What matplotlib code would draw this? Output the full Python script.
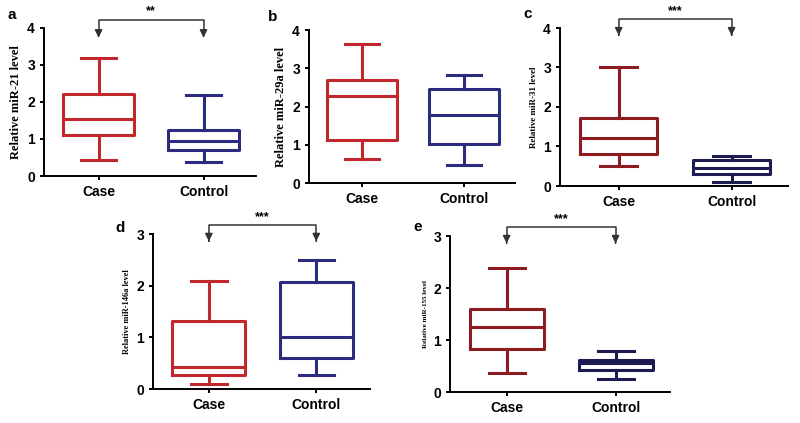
import matplotlib
matplotlib.use("Agg")
import matplotlib.pyplot as plt

plt.rcParams["font.family"] = ["Liberation Sans", "DejaVu Sans"]

groups = ["Case", "Control"]

# (whislo, q1, median, q3, whishi) per group
mir21 = [(0.43, 1.10, 1.53, 2.22, 3.20), (0.38, 0.70, 0.95, 1.25, 2.20)]
mir29a = [(0.62, 1.13, 2.27, 2.68, 3.63), (0.48, 1.03, 1.78, 2.46, 2.83)]
mir31 = [(0.50, 0.82, 1.22, 1.73, 3.00), (0.10, 0.30, 0.45, 0.65, 0.75)]
mir146a = [(0.10, 0.27, 0.43, 1.32, 2.10), (0.27, 0.60, 1.00, 2.07, 2.50)]
mir155 = [(0.37, 0.83, 1.25, 1.60, 2.38), (0.25, 0.42, 0.55, 0.62, 0.78)]

panels = [
    # letter, data, ylabel, ymax, significance, rect(px: left, right, y0, ytop), label pos, colours, label size
    ("a", mir21, "Relative miR-21 level", 4, "**", (44, 256, 176, 28), (8, 15),
     ("#c0282e", "#2b2c7e"), 9),
    ("b", mir29a, "Relative miR-29a level", 4, None, (309, 515, 183, 30), (268, 17),
     ("#c0282e", "#2b2c7e"), 9),
    ("c", mir31, "Relative miR-31 level", 4, "***", (560, 788, 186, 28), (523, 14),
     ("#8e1b1f", "#1c1c52"), 6.5),
    ("d", mir146a, "Relative miR-146a level", 3, "***", (153, 370, 389, 234), (115, 228),
     ("#c0282e", "#2b2c7e"), 6),
    ("e", mir155, "Relative miR-155 level", 3, "***", (450, 670, 392, 236), (413, 227),
     ("#8e1b1f", "#1c1c52"), 5),
]

W, H = 800, 423
fig = plt.figure(figsize=(W / 100, H / 100), dpi=100)

for letter, data, ylabel, ymax, sig, rect, lpos, colors, lsize in panels:
    l, r, y0, yt = rect
    ax = fig.add_axes([l / W, 1 - y0 / H, (r - l) / W, (y0 - yt) / H])
    for i, (vals, col) in enumerate(zip(data, colors)):
        lo, q1, med, q3, hi = vals
        st = {"whislo": lo, "q1": q1, "med": med, "q3": q3, "whishi": hi, "fliers": []}
        ax.bxp([st], positions=[i + 1], widths=0.68, showfliers=False,
               boxprops=dict(color=col, lw=2.2),
               medianprops=dict(color=col, lw=2.2),
               whiskerprops=dict(color=col, lw=2.2),
               capprops=dict(color=col, lw=2.2),
               capwidths=0.33)
    ax.set_xlim(0.48, 2.5)
    ax.set_ylim(0, ymax)
    ax.set_yticks(range(ymax + 1))
    ax.set_xticks([1, 2])
    ax.set_xticklabels(groups)
    for s in ["top", "right"]:
        ax.spines[s].set_visible(False)
    for s in ["left", "bottom"]:
        ax.spines[s].set_linewidth(1.4)
    ax.tick_params(labelsize=10, width=1.4, length=3)
    for t in ax.get_xticklabels() + ax.get_yticklabels():
        t.set_fontweight("bold")
    ax.set_ylabel(ylabel, fontsize=lsize, fontweight="bold", family="Liberation Serif",
                  labelpad=4)
    fig.text(lpos[0] / W, 1 - lpos[1] / H, letter, fontsize=11, fontweight="bold",
             va="center", ha="left")
    if sig:
        ytop = ymax * 1.055
        ytip = ymax * 0.935
        ax.plot([1, 1, 2, 2], [ytip + 0.12 * ymax / 4, ytop, ytop, ytip + 0.12 * ymax / 4],
                color="#333333", lw=1.1, clip_on=False)
        for x in (1, 2):
            ax.annotate("", xy=(x, ytip), xytext=(x, ytip + 0.15 * ymax / 4),
                        arrowprops=dict(arrowstyle="-|>", color="#333333", lw=1.1,
                                        mutation_scale=11), annotation_clip=False)
        ax.text(1.5, ytop + 0.015 * ymax, sig, ha="center", va="bottom", fontsize=9,
                fontweight="bold")

fig.savefig("out.png", dpi=100)
